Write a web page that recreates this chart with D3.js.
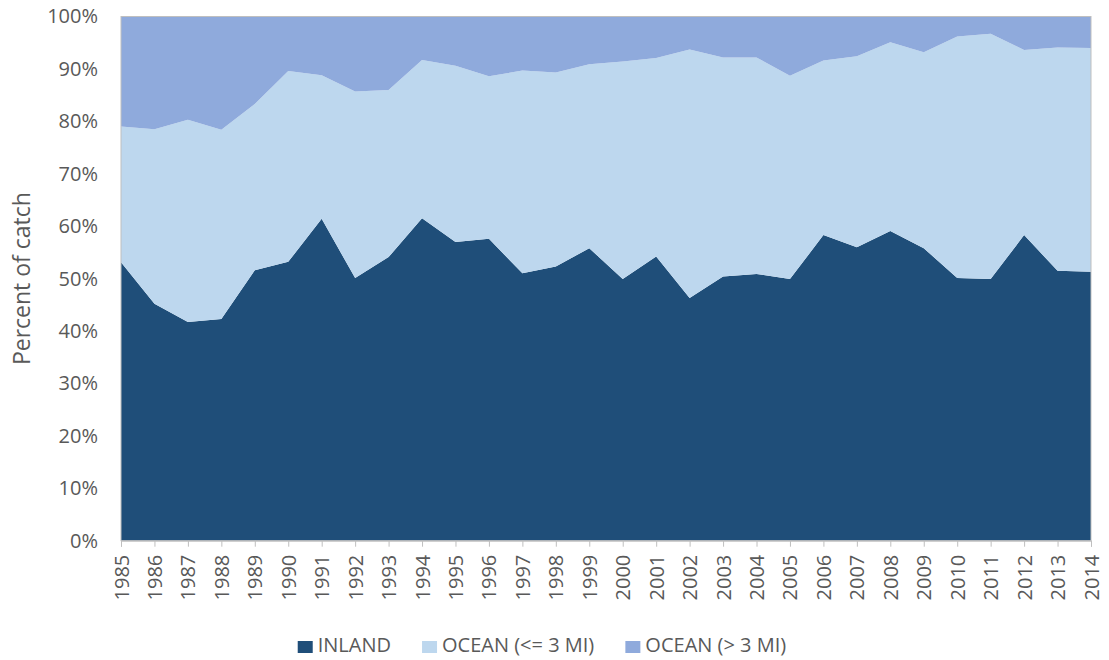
<!DOCTYPE html>
<html>
<head>
<meta charset="utf-8">
<script src="https://cdn.jsdelivr.net/npm/d3@7"></script>
<style>
  body { margin: 0; background: #fff; }
  text { font-family: "Open Sans", sans-serif; fill: #595959; }
</style>
</head>
<body>
<svg id="chart" width="1109" height="660"></svg>
<script>
"use strict";

var years = [1985, 1986, 1987, 1988, 1989, 1990, 1991, 1992, 1993, 1994,
  1995, 1996, 1997, 1998, 1999, 2000, 2001, 2002, 2003, 2004,
  2005, 2006, 2007, 2008, 2009, 2010, 2011, 2012, 2013, 2014];
var inland = [53.1, 45.2, 41.7, 42.3, 51.6, 53.2, 61.4, 50.1, 54.1, 61.5,
  57.0, 57.6, 51.0, 52.3, 55.8, 49.9, 54.2, 46.3, 50.4, 50.9,
  49.9, 58.3, 56.0, 59.1, 55.8, 50.1, 49.9, 58.3, 51.5, 51.3];
var oceanNear = [25.9, 33.3, 38.6, 36.1, 31.7, 36.4, 27.4, 35.6, 31.9, 30.2,
  33.6, 31.0, 38.7, 37.0, 35.1, 41.5, 37.9, 47.4, 41.8, 41.3,
  38.8, 33.3, 36.4, 36.0, 37.4, 46.1, 46.8, 35.3, 42.6, 42.7];
var oceanFar = [21.0, 21.5, 19.7, 21.6, 16.7, 10.4, 11.2, 14.3, 14.0, 8.3,
  9.4, 11.4, 10.3, 10.7, 9.1, 8.6, 7.9, 6.3, 7.8, 7.8,
  11.3, 8.4, 7.6, 4.9, 6.8, 3.8, 3.3, 6.4, 5.9, 6.0];
var yTicks = [0, 0.1, 0.2, 0.3, 0.4, 0.5, 0.6, 0.7, 0.8, 0.9, 1];

var keys = ['inland', 'near', 'far'];
var labels = ['INLAND', 'OCEAN (<= 3 MI)', 'OCEAN (> 3 MI)'];
var colors = ['#1f4e79', '#bdd7ee', '#8faadc'];

function make_chart(svg) {
  var margin = { top: 16.5, right: 18, bottom: 119.3, left: 121 };
  var width = 1109 - margin.left - margin.right;
  var height = 660 - margin.top - margin.bottom;

  var rows = years.map(function (y, i) {
    return { year: y, inland: inland[i], near: oceanNear[i], far: oceanFar[i] };
  });
  var series = d3.stack().keys(keys).offset(d3.stackOffsetExpand)(rows);

  var _x = d3.scaleLinear().domain(d3.extent(years)).range([0, width]);
  var _y = d3.scaleLinear().domain([0, 1]).range([height, 0]);

  var plot = svg.append('g')
    .attr('transform', 'translate(' + margin.left + ',' + margin.top + ')');

  var area = d3.area()
    .x(function (d) { return _x(d.data.year); })
    .y0(function (d) { return _y(d[0]); })
    .y1(function (d) { return _y(d[1]); });

  plot.selectAll('path.layer')
    .data(series)
    .enter().append('path')
    .attr('class', 'layer')
    .attr('fill', function (d, i) { return colors[i]; })
    .attr('d', area);

  // plot border
  plot.append('rect')
    .attr('x', 0).attr('y', 0)
    .attr('width', width).attr('height', height)
    .attr('fill', 'none')
    .attr('stroke', '#bfbfbf')
    .attr('stroke-width', 1);

  // x axis
  var xaxis = d3.axisBottom(_x)
    .tickValues(years)
    .tickFormat(d3.format('d'))
    .tickSize(6)
    .tickPadding(0);
  var gx = plot.append('g')
    .attr('transform', 'translate(0,' + height + ')')
    .call(xaxis);
  gx.select('.domain').attr('stroke', '#bfbfbf');
  gx.selectAll('.tick line').attr('stroke', '#bfbfbf');
  gx.selectAll('.tick text')
    .attr('font-size', '20px')
    .attr('text-anchor', 'end')
    .attr('transform', 'translate(0,14) rotate(-90)')
    .attr('x', 0).attr('y', 0)
    .attr('dy', '0.35em');

  // y axis
  var yaxis = d3.axisLeft(_y)
    .tickValues(yTicks)
    .tickFormat(d3.format('.0%'))
    .tickSize(0)
    .tickPadding(23);
  var gy = plot.append('g').call(yaxis);
  gy.select('.domain').remove();
  gy.selectAll('.tick text').attr('font-size', '20px');

  svg.append('text')
    .attr('transform', 'translate(30,' + (margin.top + height / 2) + ') rotate(-90)')
    .attr('text-anchor', 'middle')
    .attr('font-size', '23px')
    .text('Percent of catch');

  // legend
  var legend = svg.append('g');
  var items = legend.selectAll('g.item')
    .data(labels)
    .enter().append('g')
    .attr('class', 'item');
  items.append('rect')
    .attr('width', 15).attr('height', 12)
    .attr('y', -11)
    .attr('fill', function (d, i) { return colors[i]; });
  items.append('text')
    .attr('x', 20)
    .attr('font-size', '20px')
    .text(function (d) { return d; });
  var offset = 0;
  var gap = 31;
  items.each(function () {
    var w = this.getBBox().width;
    d3.select(this).attr('transform', 'translate(' + offset + ',0)');
    offset += w + gap;
  });
  var total = offset - gap;
  legend.attr('transform', 'translate(' + (542 - total / 2) + ',652)');
}

make_chart(d3.select('#chart'));
</script>
</body>
</html>
